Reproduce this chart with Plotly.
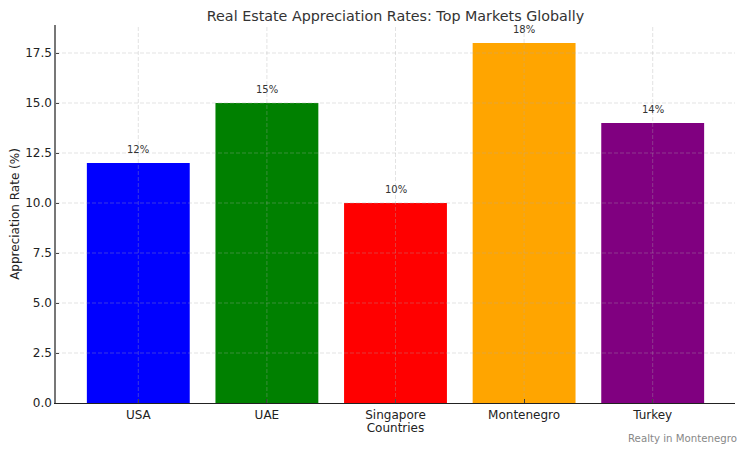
import plotly.graph_objects as go

countries = ["USA", "UAE", "Singapore", "Montenegro", "Turkey"]
rates = [12, 15, 10, 18, 14]
colors = ["#0000ff", "#008000", "#ff0000", "#ffa500", "#800080"]
y_ticks = [0.0, 2.5, 5.0, 7.5, 10.0, 12.5, 15.0, 17.5]

positions = list(range(len(countries)))
grid_color = "rgba(170,170,170,0.42)"

fig = go.Figure()
fig.add_trace(go.Bar(
    x=positions, y=rates, width=0.8,
    marker=dict(color=colors, line=dict(width=0)),
    hoverinfo="skip",
))

font = "DejaVu Sans, sans-serif"
annotations = []
for p, v in zip(positions, rates):
    annotations.append(dict(
        x=p, y=v + 0.3, xref="x", yref="y", text=f"{v}%", showarrow=False,
        yanchor="bottom", xanchor="center", font=dict(family=font, size=10, color="#333333"),
    ))
annotations.append(dict(
    x=1.006, y=-0.093, xref="paper", yref="paper", text="Realty in Montenegro",
    showarrow=False, xanchor="right", yanchor="middle",
    font=dict(family=font, size=10.2, color="#888888"),
))

shapes = []
for t in y_ticks[1:]:
    shapes.append(dict(type="line", xref="x domain", yref="y", x0=0, x1=1, y0=t, y1=t,
                       line=dict(color=grid_color, width=0.8, dash="4px,2px"), layer="above"))
for p in positions:
    shapes.append(dict(type="line", xref="x", yref="y domain", x0=p, x1=p, y0=0, y1=1,
                       line=dict(color=grid_color, width=0.8, dash="4px,2px"), layer="above"))

W, H = 738, 444
fig.update_layout(
    width=W, height=H,
    margin=dict(l=48, r=11, t=17, b=49),
    paper_bgcolor="white", plot_bgcolor="white",
    showlegend=False,
    title=dict(text="Real Estate Appreciation Rates: Top Markets Globally",
               x=387.5 / W, xanchor="center", y=1 - 7.5 / H, yanchor="middle",
               font=dict(family=font, size=14.3, color="#333333")),
    annotations=annotations,
    shapes=shapes,
    font=dict(family=font, size=12, color="#222222"),
)
fig.update_xaxes(
    range=[-0.64, 4.64], tickvals=positions, ticktext=countries, automargin=False,
    showgrid=False, zeroline=False, showline=True, linecolor="#222222", linewidth=1.2,
    ticks="inside", ticklen=3.5, tickcolor="#222222", tickwidth=1,
    title=dict(text="Countries", standoff=2, font=dict(family=font, size=12, color="#222222")),
    tickfont=dict(family=font, size=12, color="#222222"),
)
fig.update_yaxes(
    range=[0, 18.9], tickvals=y_ticks, ticktext=[f"{t:.1f}" for t in y_ticks], automargin=False,
    showgrid=False, zeroline=False, showline=True, linecolor="#777777", linewidth=1.5,
    ticks="inside", ticklen=3.5, tickcolor="#333333", tickwidth=1,
    title=dict(text="Appreciation Rate (%)", standoff=4, font=dict(family=font, size=12, color="#222222")),
    tickfont=dict(family=font, size=12, color="#222222"),
)

fig.write_html("out.html")
